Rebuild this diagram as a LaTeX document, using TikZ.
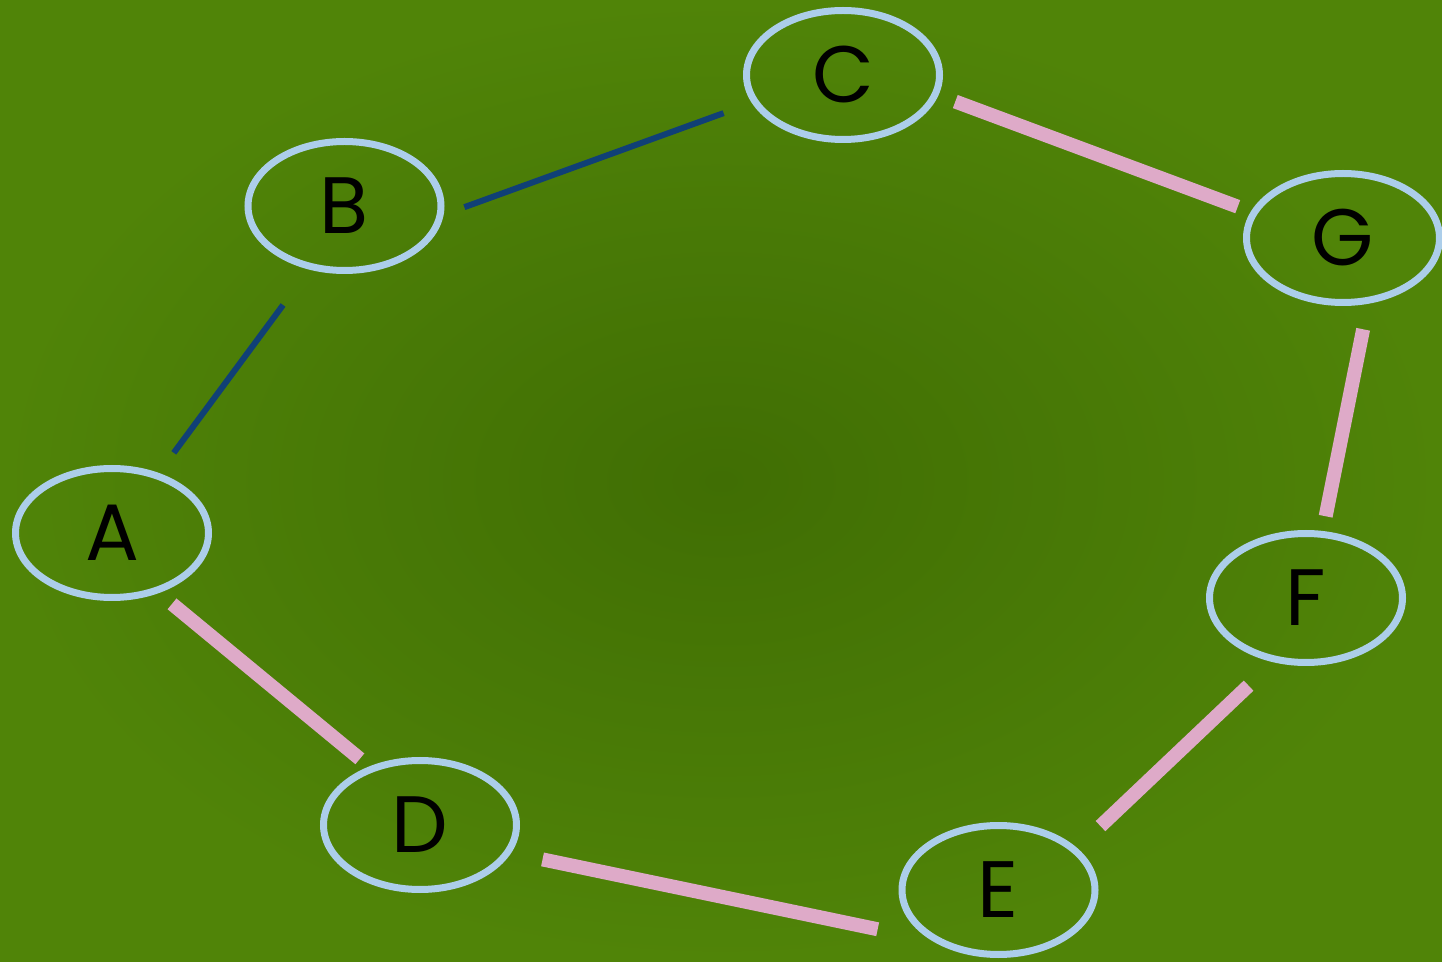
\documentclass[tikz,border=0pt]{standalone}
\usepackage{fontspec}
\newfontfamily\labelfont{Poppins}
\usetikzlibrary{shapes.geometric}

\definecolor{bglight}{RGB}{80,132,8}
\definecolor{bgdark}{RGB}{64,110,4}
\definecolor{ringblue}{RGB}{172,206,234}
\definecolor{navyline}{RGB}{16,64,118}
\definecolor{pinkline}{RGB}{222,170,200}

\begin{document}
\begin{tikzpicture}[x=0.5pt,y=0.5pt,yscale=-1,xscale=1,
  vertex/.style={ellipse,draw=ringblue,line width=3.5pt,minimum width=96.5pt,minimum height=64.5pt,inner sep=0pt,font=\labelfont\fontsize{40}{44}\selectfont},
  navyedge/.style={draw=navyline,line width=3pt},
  pinkedge/.style={draw=pinkline,line width=7pt}]

%Shape: Background
\useasboundingbox (0,0) rectangle (1442,962);
\shade [inner color=bgdark,outer color=bglight] (0,0) rectangle (1442,962);

% Ellipse Nodes
\node [vertex] (A) at (112,533) {A};
\node [vertex] (B) at (344.5,206) {B};
\node [vertex] (C) at (843,75) {C};
\node [vertex] (G) at (1343,238) {G};
\node [vertex] (F) at (1306,598) {F};
\node [vertex] (E) at (998.5,890) {E};
\node [vertex] (D) at (420,825) {D};

%Straight Lines
\draw [navyedge,shorten <=11pt,shorten >=15pt] (B.-5) -- (C.197);
\draw [navyedge,shorten <=12.5pt,shorten >=22pt] (A.52) -- (B.241);
%Straight Lines
\draw [pinkedge,shorten <=9pt,shorten >=7pt] (C.-12) -- (G.164);
\draw [pinkedge,shorten <=13pt,shorten >=7.5pt] (G.-69) -- (F.76);
\draw [pinkedge,shorten <=17pt,shorten >=16pt] (F.243) -- (E.28);
\draw [pinkedge,shorten <=27.5pt,shorten >=16pt] (E.217) -- (D.-17);
\draw [pinkedge,shorten <=6pt,shorten >=8.5pt] (D.131) -- (A.-52);
\end{tikzpicture}
\end{document}
